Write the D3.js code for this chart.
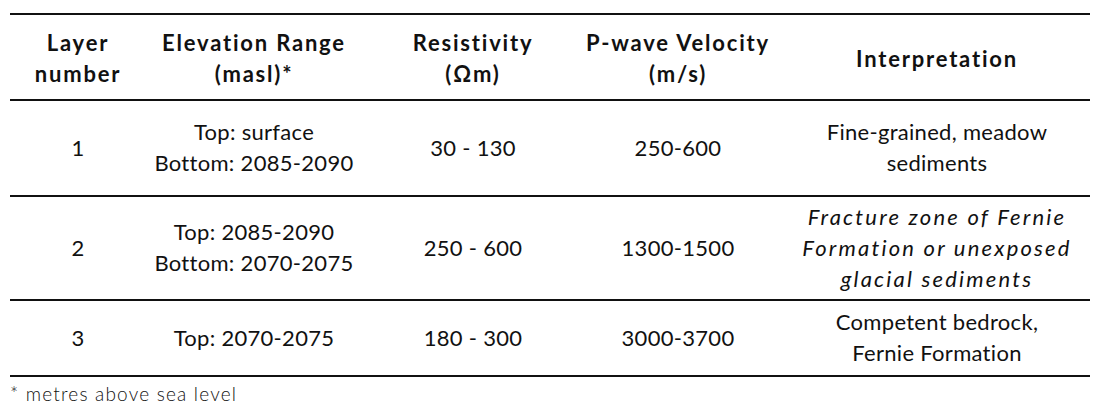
<!DOCTYPE html>
<html>
    <head>
        <script src="https://d3js.org/d3.v7.min.js"></script>
        <style>
            body { margin: 0; background: #fff; }
            svg { display: block; }
            text { font-family: 'Lato', sans-serif; fill: #111; }
        </style>
    </head>
    <body>
        <script>
            const headers = [['Layer', 'number'], ['Elevation Range', '(masl)*'], ['Resistivity', '(\u03A9m)'], ['P-wave Velocity', '(m/s)'], ['Interpretation']];
            const layers = ['1', '2', '3'];
            const elevation = [['Top: surface', 'Bottom: 2085-2090'], ['Top: 2085-2090', 'Bottom: 2070-2075'], ['Top: 2070-2075']];
            const resistivity = ['30 - 130', '250 - 600', '180 - 300'];
            const velocity = ['250-600', '1300-1500', '3000-3700'];
            const interpretation = [['Fine-grained, meadow', 'sediments'], ['Fracture zone of Fernie', 'Formation or unexposed', 'glacial sediments'], ['Competent bedrock,', 'Fernie Formation']];
            const italicRows = [false, true, false];
            const footnote = '* metres above sea level';

            const width = 1100, height = 420;
            const svg = d3.select('body').append('svg').attr('width', width).attr('height', height);

            const colX = d3.scaleOrdinal().domain(d3.range(5)).range([78, 254, 473, 678, 937]);
            // horizontal rules: top, under header, between rows, bottom
            const rules = [14, 100, 196, 300, 376];
            const lineH = 31;

            svg.selectAll('line.rule').data(rules).join('line')
                .attr('x1', 10).attr('x2', 1090)
                .attr('y1', (d) => d).attr('y2', (d) => d)
                .attr('stroke', '#111').attr('stroke-width', 2);

            function cell(g, lines, x, cy, opts) {
                const t = g.append('text').attr('text-anchor', 'middle').attr('font-size', 22)
                    .attr('font-weight', opts.bold ? 700 : 400)
                    .attr('font-style', opts.italic ? 'italic' : 'normal')
                    .attr('letter-spacing', opts.bold ? 1.8 : opts.italic ? 2.2 : 0.3);
                const y0 = cy - ((lines.length - 1) * lineH) / 2;
                lines.forEach((s, i) => {
                    t.append('tspan').attr('x', x).attr('y', y0 + i * lineH).attr('dy', '0.35em').text(s);
                });
            }

            const g = svg.append('g');
            headers.forEach((h, i) => cell(g, h, colX(i), (rules[0] + rules[1]) / 2 + 2, { bold: true }));

            layers.forEach((l, r) => {
                const cy = (rules[r + 1] + rules[r + 2]) / 2;
                cell(g, [l], colX(0), cy, {});
                cell(g, elevation[r], colX(1), cy, {});
                cell(g, [resistivity[r]], colX(2), cy, {});
                cell(g, [velocity[r]], colX(3), cy, {});
                cell(g, interpretation[r], colX(4), cy, { italic: italicRows[r] });
            });

            svg.append('text').attr('x', 10).attr('y', 401).attr('font-size', 19).attr('font-weight', 300)
                .attr('letter-spacing', 1.2).attr('fill', '#333').text(footnote);
        </script>
    </body>
</html>
